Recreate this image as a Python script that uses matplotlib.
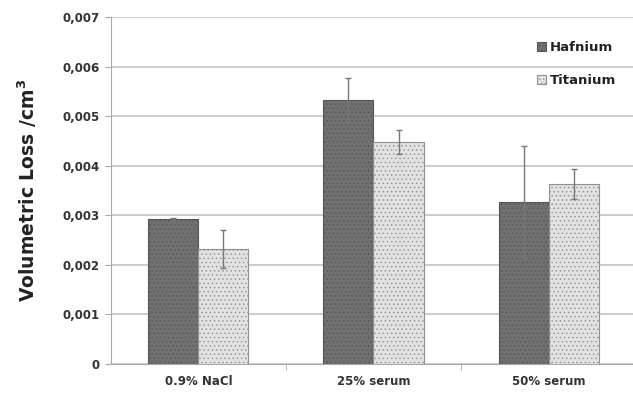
import matplotlib.pyplot as plt
import numpy as np

# wear test results, volumetric loss in cm^3
media = ["0.9% NaCl", "25% serum", "50% serum"]
hafnium = [0.00292, 0.00532, 0.00327]
hafnium_err = [0.00002, 0.00044, 0.00113]
titanium = [0.00232, 0.00447, 0.00363]
titanium_err = [0.00038, 0.00024, 0.00031]

plt.rcParams['font.family'] = 'DejaVu Sans'
plt.rcParams['hatch.linewidth'] = 0.5

fig = plt.figure(figsize=(6.33, 3.94), dpi=100)
ax = fig.add_axes([0.175, 0.076, 0.83, 0.881])

x = np.arange(len(media))
w = 0.286

ax.bar(x - w / 2, hafnium, w, color="#707070", edgecolor="#555555", linewidth=0.8,
       hatch="....", label="Hafnium", zorder=3)
ax.bar(x + w / 2, titanium, w, color="#e2e2e2", edgecolor="#8f8f8f", linewidth=0.8,
       hatch="....", label="Titanium", zorder=3)

ax.errorbar(x - w / 2, hafnium, yerr=hafnium_err, fmt="none", ecolor="#777777",
            elinewidth=1, capsize=2, capthick=1, zorder=4)
ax.errorbar(x + w / 2, titanium, yerr=titanium_err, fmt="none", ecolor="#777777",
            elinewidth=1, capsize=2, capthick=1, zorder=4)

ax.set_xlim(-0.5, 2.5)
ax.set_ylim(0, 0.007)
yt = np.arange(0, 0.0071, 0.001)
ax.set_yticks(yt)
ax.set_yticklabels(["0"] + [f"{v:.3f}".replace(".", ",") for v in yt[1:]],
                   fontsize=8.5, fontweight="bold", color="#333333")
ax.set_xticks(x)
ax.set_xticklabels(media, fontsize=8.5, fontweight="bold", color="#333333")
ax.set_xticks([0.5, 1.5], minor=True)
ax.tick_params(axis="x", which="major", length=0, pad=8)
ax.tick_params(axis="x", which="minor", length=4, color="#aaaaaa", direction="out")
ax.tick_params(axis="y", length=4, color="#aaaaaa", pad=4)

ax.yaxis.grid(True, color="#c4c4c4", linewidth=1.2, zorder=0)
ax.set_axisbelow(True)
for s in ["top", "right"]:
    ax.spines[s].set_visible(False)
ax.spines["left"].set_color("#aaaaaa")
ax.spines["bottom"].set_color("#aaaaaa")

ax.set_ylabel("Volumetric Loss /cm$^\\mathbf{3}$", fontsize=13.5, fontweight="bold",
              color="#222222", labelpad=17)

leg = ax.legend(loc="upper right", bbox_to_anchor=(0.985, 0.965), frameon=False,
                prop={"weight": "bold", "size": 9.5}, handlelength=0.7,
                handleheight=0.7, handletextpad=0.3, labelspacing=1.55)
for t in leg.get_texts():
    t.set_color("#222222")

fig.savefig("out.png", dpi=100)
